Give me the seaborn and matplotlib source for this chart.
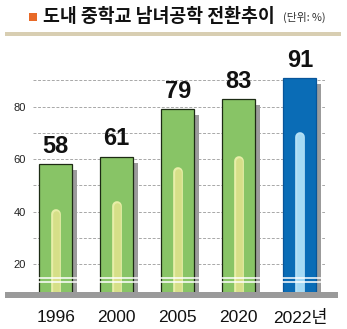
import numpy as np
import pandas as pd
import seaborn as sns
import matplotlib
matplotlib.use('Agg')
import matplotlib.pyplot as plt
from matplotlib import patheffects as pe, font_manager as fm
from matplotlib.patches import Rectangle

years = ['1996', '2000', '2005', '2020', '2022년']
rates = [58, 61, 79, 83, 91]
highlight = [41, 44, 57, 61, 70]
grid_levels = [20, 30, 40, 50, 60, 70, 80, 90]
tick_labels = ['20', '', '40', '', '60', '', '80', '']
title = '도내 중학교 남녀공학 전환추이'
unit = '(단위: %)'

sns.set_theme(style='white')
names = {f.name for f in fm.fontManager.ttflist}
narrow = 'Liberation Sans Narrow' if 'Liberation Sans Narrow' in names else 'Liberation Sans'
plt.rcParams['font.family'] = [narrow, 'Noto Sans CJK KR', 'DejaVu Sans']

W, H = 347, 329
fig = plt.figure(figsize=(W / 100, H / 100), dpi=100)
fig.patch.set_facecolor('white')
ax = fig.add_axes([33 / W, 37 / H, 292 / W, 252 / H])
ax.set_facecolor('white')

df = pd.DataFrame({'year': years, 'rate': rates})
colors = ['#88c466'] * 4 + ['#0a6cb6']
edges = ['#1d2b14'] * 4 + ['#08559a']
sns.barplot(data=df, x='year', y='rate', hue='year', palette=colors, legend=False,
            width=0.54, ax=ax, saturation=1, zorder=2, linewidth=0.9)
for p, ec in zip(ax.patches, edges):
    p.set_edgecolor(ec)
    p.set_path_effects([pe.SimplePatchShadow(offset=(3.6, -4.3), shadow_rgbFace='#9b9b9b', alpha=1.0),
                        pe.Normal()])

# inner highlight stripes
for i, h in enumerate(highlight):
    if i < 4:
        rim, core = '#e8eea8', '#d6df88'
    else:
        rim, core = '#b4e0f6', '#a6daf4'
    ax.plot([i, i], [0, h - 1.7], color=rim, lw=7.0, solid_capstyle='round', zorder=3)
    ax.plot([i, i], [0, h - 1.7], color=core, lw=4.8, solid_capstyle='round', zorder=3)

# axis break lines
for yb in (14.7, 13.2):
    ax.axhline(yb, color='white', lw=1.1, zorder=6)

for i, v in enumerate(rates):
    ax.annotate(str(v), (i, v), xytext=(0, 8), textcoords='offset points',
                ha='center', va='baseline', fontsize=17, fontweight='bold', color='#111111')

ax.set_ylim(9.5, 105.3)
ax.set_xlim(-0.37, 4.41)
ax.set_yticks(grid_levels)
ax.set_yticklabels(tick_labels)
ax.yaxis.grid(True, color='#9a9a9a', lw=0.6, ls=(0, (3.5, 2)), zorder=0)
ax.set_axisbelow(True)
ax.tick_params(axis='y', length=0, pad=5, labelsize=8, labelcolor='#222222')
ax.tick_params(axis='x', length=0, pad=13, labelsize=12.5, labelcolor='#111111')
ax.set_xlabel('')
ax.set_ylabel('')
for s in ax.spines.values():
    s.set_visible(False)

# baseline band
fig.add_artist(Rectangle((5 / W, (H - 298) / H), 333 / W, 6 / H, transform=fig.transFigure,
                         facecolor='#9a9a9a', edgecolor='none', zorder=10))
# tan rule under title
fig.add_artist(Rectangle((5 / W, (H - 36) / H), 336 / W, 4 / H, transform=fig.transFigure,
                         facecolor='#d8ceb2', edgecolor='none', zorder=10))
# orange square
fig.add_artist(Rectangle((29 / W, (H - 21) / H), 8 / W, 8 / H, transform=fig.transFigure,
                         facecolor='#e86a28', edgecolor='none', zorder=10))
fig.text(43 / W, 1 - 16.5 / H, title, ha='left', va='center', fontsize=13.2, fontweight='heavy',
         family=['Noto Sans CJK KR', 'DejaVu Sans'], color='#111111')
fig.text(283 / W, 1 - 17 / H, unit, ha='left', va='center', fontsize=7.8,
         family=['Noto Sans CJK KR', 'DejaVu Sans'], color='#333333')

fig.savefig('out.png', dpi=100)
